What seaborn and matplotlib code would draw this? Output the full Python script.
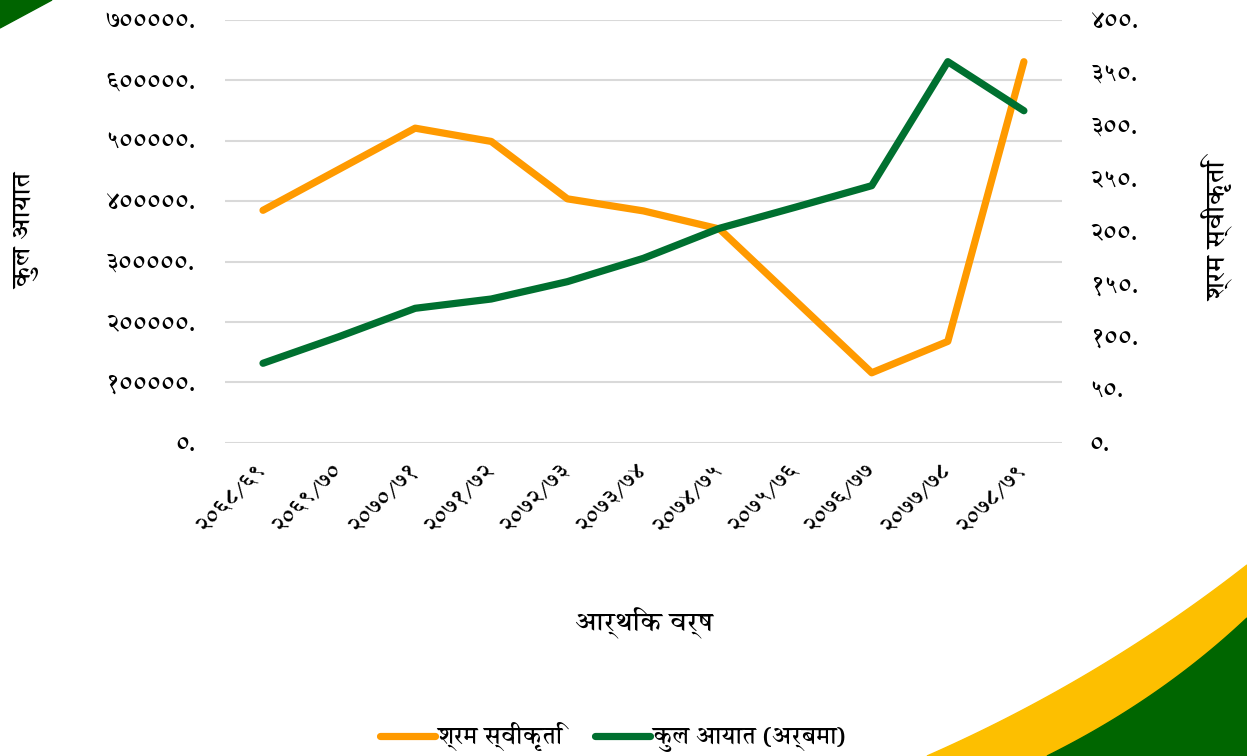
import numpy as np
import pandas as pd
import seaborn as sns
import matplotlib.pyplot as plt
from matplotlib.patches import Polygon
from matplotlib.transforms import ScaledTranslation

# fiscal years and the two series
years = ["२०६८/६९", "२०६९/७०", "२०७०/७१", "२०७१/७२", "२०७२/७३", "२०७३/७४",
         "२०७४/७५", "२०७५/७६", "२०७६/७७", "२०७७/७८", "२०७८/७९"]
labour = [385000, 453000, 521000, 499000, 404000, 384000,
          354000, 235000, 116000, 168000, 631000]
imports = [75.3, 100.5, 127.3, 136.1, 152.5, 174.6,
           203.0, 223.0, 243.3, 360.6, 314.2]
left_ticks = [0, 100000, 200000, 300000, 400000, 500000, 600000, 700000]
right_ticks = [0, 50, 100, 150, 200, 250, 300, 350, 400]

sns.set_style("white")
plt.rcParams['font.family'] = ['Annapurna SIL', 'FreeSans', 'DejaVu Sans']
plt.rcParams['text.color'] = 'black'
plt.rcParams['axes.labelcolor'] = 'black'

DIGITS = str.maketrans("0123456789", "०१२३४५६७८९")
def nep(v):
    return str(v).translate(DIGITS) + "."

fig = plt.figure(figsize=(12.47, 7.56), dpi=100)
ax = fig.add_axes([0.1804, 0.4142, 0.6712, 0.5593])
ax2 = ax.twinx()

df = pd.DataFrame({"year": years, "labour": labour, "imports": imports})
sns.lineplot(data=df, x="year", y="labour", ax=ax, color="#FF9A00", lw=5.2,
             solid_capstyle="round", label="श्रम स्वीकृति", legend=False)
sns.lineplot(data=df, x="year", y="imports", ax=ax2, color="#007030", lw=5.2,
             solid_capstyle="round", label="कुल आयात (अर्बमा)", legend=False)

ax.set_xlim(-0.5, len(years) - 0.5)
ax.set_ylim(0, 700000)
ax2.set_ylim(0, 400)
ax.set_yticks(left_ticks)
ax.set_yticklabels([nep(v) for v in left_ticks], fontsize=17, fontweight="bold")
ax2.set_yticks(right_ticks)
ax2.set_yticklabels([nep(v) for v in right_ticks], fontsize=17, fontweight="bold")
ax.set_xticks(range(len(years)))
ax.set_xticklabels(years, rotation=45, ha="right", va="center",
                   rotation_mode="anchor", fontsize=16, fontweight="bold")
shift = ScaledTranslation(-10 / 72, 0, fig.dpi_scale_trans)
for lab in ax.get_xticklabels():
    lab.set_transform(lab.get_transform() + shift)
ax.grid(axis="y", color="#d9d9d9", lw=1.5)
ax.set_axisbelow(True)
for a in (ax, ax2):
    for s in a.spines.values():
        s.set_visible(False)
ax.tick_params(axis="y", length=0, pad=21, labelcolor="black")
ax.tick_params(axis="x", length=0, pad=17, labelcolor="black")
ax2.tick_params(length=0, pad=20, labelcolor="black")

ax.set_xlabel("आर्थिक वर्ष", fontsize=19, fontweight="bold")
ax.xaxis.set_label_coords(0.5, -0.39)
ax.set_ylabel("कुल आयात", fontsize=19, fontweight="bold")
ax.yaxis.set_label_coords(-0.221, 0.5)
ax2.set_ylabel("श्रम स्वीकृति", fontsize=19, fontweight="bold")
ax2.yaxis.set_label_coords(1.1685, 0.5)

h1, l1 = ax.get_legend_handles_labels()
h2, l2 = ax2.get_legend_handles_labels()
fig.legend(h1 + h2, l1 + l2, loc="center", bbox_to_anchor=(0.4916, 0.025), ncol=2,
           frameon=False, prop={"size": 17, "weight": "bold"},
           handlelength=2.3, handletextpad=0.1, columnspacing=1.4)

# corner decorations
fig.patches.append(Polygon([(0, 1), (52 / 1247, 1), (0, 1 - 28 / 756)],
                           closed=True, transform=fig.transFigure, color="#006400"))
t = np.linspace(0, 1, 40)
def curve(p0, p1, p2):
    return ((1 - t) ** 2)[:, None] * p0 + (2 * (1 - t) * t)[:, None] * p1 + (t ** 2)[:, None] * p2
yel = curve(np.array([927, 756]), np.array([1100, 680]), np.array([1247, 565]))
grn = curve(np.array([1047, 756]), np.array([1160, 700]), np.array([1247, 618]))
def to_fig(pts):
    return np.column_stack([pts[:, 0] / 1247, 1 - pts[:, 1] / 756])
fig.patches.append(Polygon(np.vstack([to_fig(yel), [[1, 0]]]), closed=True,
                           transform=fig.transFigure, color="#FDBF00"))
fig.patches.append(Polygon(np.vstack([to_fig(grn), [[1, 0]]]), closed=True,
                           transform=fig.transFigure, color="#006600"))

fig.savefig("out.png", dpi=100)
